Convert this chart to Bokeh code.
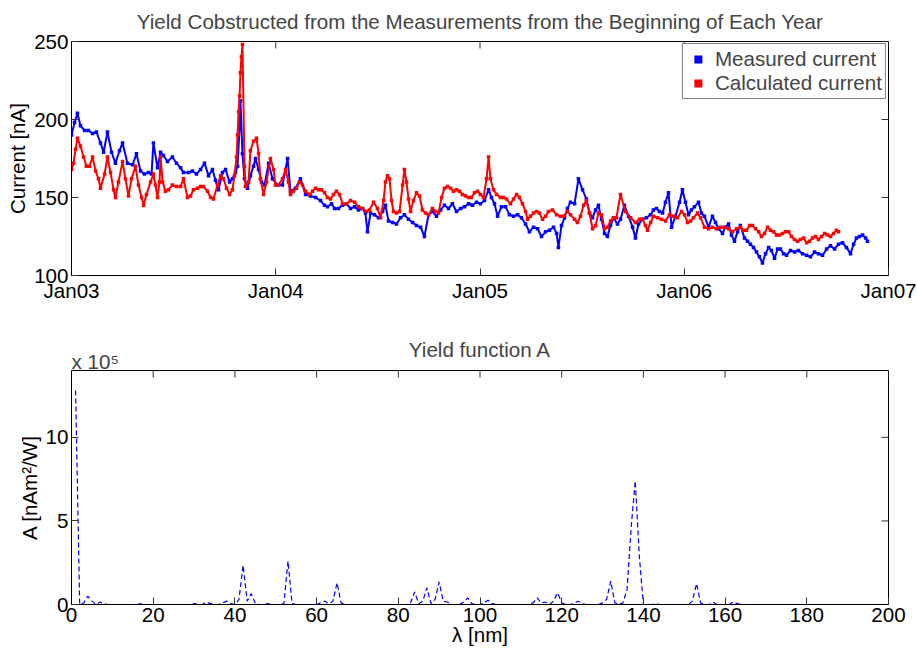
import math
from bokeh.plotting import figure
from bokeh.models import Range1d, FixedTicker, Legend, LegendItem, Title
from bokeh.layouts import column
from bokeh.embed import file_html
from bokeh.resources import INLINE

FONT = "Liberation Sans"
FS = "20.6px"

# ---------------- data ----------------
# time axis: years since 1 Jan 2003
year_ticks = [0, 1, 2, 3, 4]
year_labels = ["Jan03", "Jan04", "Jan05", "Jan06", "Jan07"]
current_ticks = [100, 150, 200, 250]
t_min, t_max = 0, 4
cur_min, cur_max = 100, 250

meas_t = [
    0.000, 0.015, 0.029, 0.044, 0.064, 0.083, 0.103, 0.122, 0.142, 0.157,
    0.176, 0.196, 0.215, 0.235, 0.250, 0.274, 0.299, 0.318, 0.338, 0.357,
    0.377, 0.392, 0.401, 0.421, 0.436, 0.450, 0.470, 0.494, 0.514, 0.534,
    0.548, 0.573, 0.592, 0.612, 0.632, 0.651, 0.671, 0.690, 0.705, 0.720,
    0.739, 0.754, 0.774, 0.788, 0.803, 0.813, 0.823, 0.827, 0.837, 0.847,
    0.862, 0.876, 0.891, 0.901, 0.916, 0.930, 0.945, 0.965, 0.984, 1.009,
    1.033, 1.058, 1.072, 1.097, 1.121, 1.146, 1.170, 1.195, 1.219, 1.239,
    1.253, 1.273, 1.288, 1.307, 1.327, 1.346, 1.366, 1.386, 1.405, 1.425,
    1.439, 1.449, 1.464, 1.483, 1.503, 1.523, 1.537, 1.552, 1.572, 1.591,
    1.611, 1.630, 1.650, 1.670, 1.689, 1.709, 1.728, 1.748, 1.767, 1.787,
    1.807, 1.826, 1.846, 1.865, 1.885, 1.905, 1.924, 1.944, 1.963, 1.983,
    2.002, 2.022, 2.042, 2.056, 2.071, 2.086, 2.105, 2.125, 2.144, 2.164,
    2.184, 2.203, 2.223, 2.242, 2.262, 2.282, 2.301, 2.321, 2.340, 2.360,
    2.375, 2.384, 2.399, 2.414, 2.428, 2.443, 2.463, 2.482, 2.502, 2.521,
    2.536, 2.551, 2.566, 2.580, 2.595, 2.610, 2.624, 2.639, 2.654, 2.673,
    2.688, 2.707, 2.727, 2.747, 2.761, 2.776, 2.796, 2.815, 2.835, 2.849,
    2.864, 2.879, 2.894, 2.908, 2.923, 2.938, 2.957, 2.977, 2.991, 3.006,
    3.021, 3.035, 3.050, 3.070, 3.084, 3.099, 3.119, 3.138, 3.153, 3.168,
    3.187, 3.202, 3.217, 3.231, 3.246, 3.261, 3.275, 3.295, 3.310, 3.324,
    3.339, 3.354, 3.368, 3.383, 3.398, 3.413, 3.427, 3.442, 3.457, 3.471,
    3.486, 3.501, 3.520, 3.540, 3.559, 3.579, 3.599, 3.618, 3.638, 3.657,
    3.677, 3.697, 3.716, 3.736, 3.755, 3.775, 3.794, 3.814, 3.829, 3.843,
    3.858, 3.873, 3.888, 3.897,
]
meas_v = [
    190, 198, 204, 196, 193, 193, 191, 192, 185, 179,
    192, 179, 172, 180, 185, 172, 171, 178, 167, 165,
    166, 165, 185, 169, 179, 177, 173, 176, 172, 169,
    166, 166, 167, 165, 168, 172, 164, 168, 161, 155,
    166, 168, 160, 162, 166, 170, 195, 212, 178, 162,
    156, 164, 170, 175, 168, 160, 158, 172, 162, 158,
    158, 175, 154, 156, 162, 152, 151, 150, 148, 145,
    144, 146, 143, 143, 145, 146, 143, 144, 142, 143,
    140, 128, 140, 139, 137, 141, 145, 135, 134, 133,
    137, 139, 136, 134, 132, 131, 125, 139, 141, 138,
    142, 145, 143, 146, 141, 143, 144, 146, 145, 147,
    146, 148, 155, 150, 146, 138, 144, 144, 139, 138,
    139, 137, 133, 128, 131, 130, 125, 128, 129, 131,
    127, 118, 132, 137, 143, 147, 146, 162, 155, 149,
    140, 137, 142, 145, 136, 127, 125, 132, 137, 133,
    136, 145, 138, 131, 124, 133, 136, 137, 139, 142,
    143, 141, 140, 147, 153, 131, 138, 147, 155, 147,
    139, 142, 144, 147, 140, 138, 131, 138, 134, 130,
    127, 131, 133, 126, 122, 128, 132, 124, 122, 120,
    118, 115, 112, 108, 114, 118, 116, 111, 117, 117,
    114, 113, 116, 115, 116, 114, 113, 112, 115, 114,
    113, 117, 119, 117, 120, 121, 118, 114, 120, 124,
    125, 126, 124, 122,
]

calc_t = [
    0.000, 0.010, 0.020, 0.029, 0.044, 0.059, 0.073, 0.088, 0.103, 0.118,
    0.132, 0.142, 0.162, 0.176, 0.191, 0.206, 0.215, 0.230, 0.250, 0.264,
    0.279, 0.294, 0.313, 0.328, 0.343, 0.353, 0.367, 0.387, 0.401, 0.411,
    0.421, 0.431, 0.436, 0.446, 0.460, 0.475, 0.494, 0.514, 0.534, 0.548,
    0.568, 0.583, 0.597, 0.617, 0.632, 0.646, 0.666, 0.681, 0.695, 0.715,
    0.730, 0.744, 0.759, 0.774, 0.788, 0.798, 0.808, 0.813, 0.818, 0.823,
    0.827, 0.832, 0.837, 0.847, 0.852, 0.867, 0.876, 0.891, 0.906, 0.916,
    0.925, 0.940, 0.955, 0.974, 0.989, 0.999, 1.013, 1.033, 1.048, 1.062,
    1.072, 1.087, 1.102, 1.116, 1.131, 1.146, 1.165, 1.180, 1.195, 1.209,
    1.224, 1.239, 1.253, 1.268, 1.283, 1.297, 1.312, 1.327, 1.346, 1.366,
    1.386, 1.405, 1.425, 1.444, 1.459, 1.479, 1.498, 1.513, 1.528, 1.537,
    1.547, 1.557, 1.567, 1.576, 1.591, 1.606, 1.621, 1.630, 1.640, 1.650,
    1.660, 1.674, 1.689, 1.704, 1.718, 1.733, 1.748, 1.767, 1.782, 1.797,
    1.812, 1.826, 1.841, 1.856, 1.870, 1.885, 1.900, 1.914, 1.929, 1.944,
    1.958, 1.973, 1.988, 2.002, 2.017, 2.032, 2.042, 2.051, 2.066, 2.081,
    2.100, 2.115, 2.130, 2.149, 2.164, 2.179, 2.193, 2.208, 2.223, 2.233,
    2.247, 2.262, 2.277, 2.291, 2.306, 2.321, 2.335, 2.355, 2.375, 2.394,
    2.409, 2.428, 2.443, 2.463, 2.477, 2.492, 2.507, 2.521, 2.536, 2.551,
    2.566, 2.580, 2.595, 2.610, 2.624, 2.639, 2.654, 2.668, 2.688, 2.712,
    2.737, 2.761, 2.781, 2.796, 2.810, 2.820, 2.835, 2.849, 2.869, 2.889,
    2.908, 2.928, 2.947, 2.967, 2.987, 3.001, 3.016, 3.031, 3.045, 3.065,
    3.080, 3.099, 3.119, 3.138, 3.158, 3.178, 3.197, 3.217, 3.236, 3.256,
    3.275, 3.290, 3.305, 3.320, 3.334, 3.349, 3.364, 3.378, 3.393, 3.408,
    3.422, 3.437, 3.452, 3.466, 3.481, 3.496, 3.511, 3.525, 3.540, 3.555,
    3.569, 3.584, 3.599, 3.613, 3.628, 3.643, 3.657, 3.672, 3.687, 3.701,
    3.716, 3.731, 3.745, 3.755,
]
calc_v = [
    168, 172, 181, 188, 183, 176, 170, 170, 176, 167,
    162, 156, 165, 176, 166, 155, 150, 160, 173, 162,
    151, 162, 170, 158, 150, 145, 152, 160, 165, 158,
    150, 160, 176, 160, 154, 155, 158, 157, 157, 162,
    150, 151, 155, 156, 157, 157, 154, 150, 149, 158,
    164, 162, 156, 152, 155, 164, 176, 190, 205, 215,
    230, 240, 248, 170, 157, 160, 180, 186, 188, 178,
    162, 152, 160, 175, 168, 158, 158, 162, 168, 160,
    152, 154, 156, 160, 158, 154, 152, 154, 156, 155,
    155, 153, 150, 149, 152, 154, 152, 146, 146, 148,
    147, 144, 143, 141, 142, 147, 143, 137, 148, 160,
    164, 162, 148, 141, 140, 141, 158, 168, 160, 149,
    141, 148, 153, 151, 142, 140, 139, 143, 141, 140,
    150, 156, 157, 156, 154, 155, 154, 152, 151, 150,
    150, 153, 154, 152, 150, 162, 176, 162, 155, 152,
    150, 150, 149, 146, 149, 152, 150, 146, 141, 136,
    138, 140, 141, 140, 136, 138, 141, 142, 139, 138,
    138, 141, 139, 136, 134, 138, 145, 148, 140, 130,
    132, 140, 139, 130, 131, 135, 137, 137, 152, 141,
    137, 134, 136, 136, 132, 129, 134, 138, 137, 136,
    135, 139, 138, 137, 141, 139, 134, 135, 137, 140,
    137, 131, 130, 131, 130, 131, 131, 130, 128, 130,
    131, 129, 129, 132, 132, 130, 128, 125, 127, 131,
    129, 128, 126, 126, 127, 128, 128, 125, 123, 122,
    123, 124, 121, 122, 124, 125, 123, 125, 127, 126,
    125, 127, 129, 128,
]

# yield function A, units of 1e5 nAm^2/W, sampled every 1 nm
lam = list(range(1, 194))
yield_A = [
    12.8, 0.0, 0.1, 0.5, 0.2, 0.0, 0.15, 0.05, 0.0, 0.0,
    0.0, 0.0, 0.0, 0.0, 0.0, 0.0, 0.05, 0.0, 0.0, 0.0,
    0.0, 0.0, 0.0, 0.0, 0.0, 0.0, 0.0, 0.0, 0.0, 0.05,
    0.0, 0.0, 0.15, 0.05, 0.0, 0.0, 0.1, 0.2, 0.05, 0.0,
    0.3, 2.35, 0.2, 0.65, 0.05, 0.0, 0.0, 0.05, 0.0, 0.0,
    0.0, 0.05, 2.6, 0.05, 0.0, 0.0, 0.0, 0.0, 0.0, 0.0,
    0.1, 0.2, 0.05, 0.2, 1.3, 0.1, 0.0, 0.0, 0.0, 0.0,
    0.0, 0.0, 0.0, 0.0, 0.0, 0.0, 0.0, 0.0, 0.0, 0.0,
    0.0, 0.0, 0.1, 0.75, 0.05, 0.2, 1.0, 0.05, 0.3, 1.35,
    0.2, 0.15, 0.0, 0.0, 0.0, 0.15, 0.4, 0.05, 0.0, 0.0,
    0.1, 0.25, 0.05, 0.0, 0.0, 0.0, 0.0, 0.0, 0.0, 0.0,
    0.0, 0.0, 0.1, 0.4, 0.1, 0.15, 0.0, 0.2, 0.7, 0.1,
    0.0, 0.0, 0.05, 0.2, 0.05, 0.0, 0.0, 0.0, 0.0, 0.1,
    0.3, 1.4, 0.1, 0.0, 0.1, 0.9, 4.6, 7.4, 2.9, 0.0,
    0.0, 0.0, 0.05, 0.0, 0.0, 0.0, 0.0, 0.0, 0.0, 0.0,
    0.0, 0.2, 1.25, 0.1, 0.0, 0.0, 0.15, 0.0, 0.0, 0.0,
    0.0, 0.15, 0.05, 0.0, 0.0, 0.0, 0.0, 0.0, 0.0, 0.0,
    0.0, 0.0, 0.0, 0.0, 0.0, 0.0, 0.0, 0.0, 0.0, 0.0,
    0.0, 0.0, 0.0, 0.0, 0.0, 0.0, 0.0, 0.0, 0.0, 0.0,
    0.0, 0.0, 0.0,
]
lam_ticks = [0, 20, 40, 60, 80, 100, 120, 140, 160, 180, 200]
A_ticks = [0, 5, 10]
lam_min, lam_max = 0, 200
A_min, A_max = 0, 14


def style_axis(ax):
    ax.axis_line_color = "black"
    ax.axis_line_width = 1
    ax.major_tick_in = 7
    ax.major_tick_out = 0
    ax.major_tick_line_color = "#333333"
    ax.minor_tick_line_color = None
    ax.major_label_text_font = FONT
    ax.major_label_text_font_size = FS
    ax.major_label_text_color = "black"
    ax.major_label_standoff = 3
    ax.axis_label_text_font = FONT
    ax.axis_label_text_font_size = FS
    ax.axis_label_text_font_style = "normal"
    ax.axis_label_text_color = "black"
    ax.axis_label_standoff = 2


def base_fig(title, xr, yr, top_border, bottom_border):
    p = figure(frame_width=817, frame_height=234,
               x_range=xr, y_range=yr,
               min_border_left=71, min_border_right=29,
               min_border_top=top_border, min_border_bottom=bottom_border,
               output_backend="svg", toolbar_location=None,
               background_fill_color="white", border_fill_color="white",
               title=title)
    p.title.text_font = FONT
    p.title.text_font_size = FS
    p.title.text_font_style = "normal"
    p.title.align = "center"
    p.grid.visible = False
    p.outline_line_color = "black"
    p.outline_line_width = 1
    return p


def box_ticks(p, xticks, yticks, xmax, ymax):
    # inward ticks on the top and right edges of the box (MATLAB style)
    p.scatter(xticks, [ymax] * len(xticks), marker="dash", angle=math.pi / 2,
              size=14, line_color="#333333", line_width=1)
    p.scatter([xmax] * len(yticks), yticks, marker="dash", angle=0,
              size=14, line_color="#333333", line_width=1)


# ---------------- top figure ----------------
p1 = base_fig("Yield Cobstructed from the Measurements from the Beginning of Each Year",
              Range1d(t_min, t_max), Range1d(cur_min, cur_max), 41, 33)
p1.title.vertical_align = "top"
p1.title.standoff = 14
p1.xaxis.ticker = FixedTicker(ticks=year_ticks)
p1.xaxis.major_label_overrides = {t: l for t, l in zip(year_ticks, year_labels)}
p1.yaxis.ticker = FixedTicker(ticks=current_ticks)
p1.yaxis.axis_label = "Current [nA]"
style_axis(p1.xaxis[0])
style_axis(p1.yaxis[0])
box_ticks(p1, year_ticks, current_ticks, t_max, cur_max)

p1.line(meas_t, meas_v, color="#0000ff", line_width=2)
r_meas = p1.scatter(meas_t, meas_v, marker="square", size=3.5, fill_color="#0000ff", line_color=None)
p1.line(calc_t, calc_v, color="#ff0000", line_width=2)
r_calc = p1.scatter(calc_t, calc_v, marker="square", size=3.5, fill_color="#ff0000", line_color=None)

legend = Legend(items=[LegendItem(label="Measured current", renderers=[r_meas]),
                       LegendItem(label="Calculated current", renderers=[r_calc])],
                location="top_right", margin=2, padding=3, spacing=0,
                glyph_width=24, glyph_height=20, label_standoff=5, label_height=20,
                label_text_font=FONT, label_text_font_size=FS,
                border_line_color="black", border_line_width=1,
                background_fill_color="white", background_fill_alpha=1.0)
p1.add_layout(legend)

# ---------------- bottom figure ----------------
p2 = base_fig("Yield function A", Range1d(lam_min, lam_max), Range1d(A_min, A_max), 62, 46)
p2.title.standoff = -22
p2.xaxis.ticker = FixedTicker(ticks=lam_ticks)
p2.yaxis.ticker = FixedTicker(ticks=A_ticks)
p2.yaxis.axis_label = "A [nAm²/W]"
p2.xaxis.axis_label = "λ [nm]"
style_axis(p2.xaxis[0])
style_axis(p2.yaxis[0])
p2.xaxis.axis_label_standoff = -2
box_ticks(p2, lam_ticks, A_ticks, lam_max, A_max)

p2.line(lam, yield_A, color="#0000ff", line_width=1.2, line_dash="5 3")

p2.add_layout(Title(text="x 10⁵", align="left", text_font=FONT, text_font_size=FS,
                    text_font_style="normal", standoff=-4), "above")

layout = column(p1, p2, spacing=0)
open("out.html", "w").write(file_html(layout, INLINE))
